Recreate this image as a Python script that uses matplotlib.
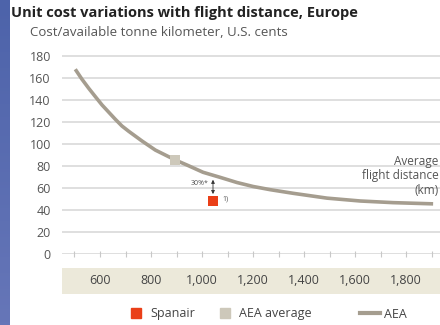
import numpy as np
import matplotlib.pyplot as plt
from matplotlib.colors import LinearSegmentedColormap
from matplotlib.lines import Line2D
from matplotlib.patches import Rectangle

# AEA unit cost curve (km, US cents per ATK)
aea_dist = [503, 529, 556, 582, 608, 634, 660, 686, 713, 765, 817, 869, 900,
            941, 1004, 1071, 1137, 1200, 1267, 1357, 1490, 1620, 1749, 1906]
aea_cost = [168, 159, 150.6, 143, 135.5, 129, 122.5, 116.4, 111.5, 102.7, 94.5,
            88.5, 85, 80.9, 74.3, 69.7, 65, 61.4, 58.5, 55.2, 50.8, 48.2, 46.7, 45.6]

aea_avg_dist = [893]
aea_avg_cost = [85.3]

spanair_dist = [1043]
spanair_cost = [48]

y_ticks = [0, 20, 40, 60, 80, 100, 120, 140, 160, 180]
x_ticks = [600, 800, 1000, 1200, 1400, 1600, 1800]
x_labels = ["600", "800", "1,000", "1,200", "1,400", "1,600", "1,800"]

plt.rcParams['font.family'] = ['Open Sans', 'DejaVu Sans']

curve_col = '#a59d8f'
avg_col = '#cdc8ba'
red = '#ea3f18'
grey_txt = '#555555'

fig = plt.figure(figsize=(4.4, 3.25), dpi=100)
fig.patch.set_facecolor('white')

# blue strip on the left edge
strip = fig.add_axes([0, 0, 9.5 / 440, 1])
grad = np.linspace(0, 1, 100).reshape(-1, 1)
strip.imshow(grad, aspect='auto',
             cmap=LinearSegmentedColormap.from_list('b', ['#4d63aa', '#6676b8']))
strip.axis('off')

ax = fig.add_axes([62 / 440, 71 / 325, 378 / 440, 204 / 325])
ax.set_xlim(451, 1933)
ax.set_ylim(0, 185.5)
for s in ax.spines.values():
    s.set_visible(False)

for v in y_ticks:
    ax.axhline(v, color='#d6d6d6', lw=1.1, zorder=1)

ax.set_yticks(y_ticks)
ax.tick_params(axis='y', length=0, pad=8, labelsize=9, labelcolor=grey_txt)

# small ticks along the zero line
ax.set_xticks(np.arange(500, 1901, 100))
ax.tick_params(axis='x', direction='inout', length=4, width=0.8, color='#c8c8c8',
               labelbottom=False)

# beige band behind the x labels
ax.add_patch(Rectangle((0, -40 / 204), 1.05, 26 / 204, transform=ax.transAxes,
                       facecolor='#ece9da', edgecolor='none', clip_on=False))
xt = ax.get_xaxis_transform()
for x, lab in zip(x_ticks, x_labels):
    ax.text(x, -27 / 204, lab, transform=xt, ha='center', va='center',
            fontsize=9, color='#444444')

ax.plot(aea_dist, aea_cost, color=curve_col, lw=2.6, solid_capstyle='butt',
        solid_joinstyle='round', zorder=3)
ax.scatter(aea_avg_dist, aea_avg_cost, marker='s', s=55, color=avg_col, zorder=4, lw=0)
ax.scatter(spanair_dist, spanair_cost, marker='s', s=55, color=red, zorder=4, lw=0)

ax.annotate('', xy=(spanair_dist[0], 67.5), xytext=(spanair_dist[0], 54.5),
            arrowprops=dict(arrowstyle='<|-|>', color='#333333', lw=0.6,
                            mutation_scale=5, shrinkA=0, shrinkB=0))
ax.text(spanair_dist[0] - 18, 64, '30%*', ha='right', va='center', fontsize=5,
        color=grey_txt)
ax.text(spanair_dist[0] + 38, 50, '1)', ha='left', va='center', fontsize=5,
        color=grey_txt)

ax.text(0.997, (254 - 176) / 204, 'Average\nflight distance\n(km)', transform=ax.transAxes,
        ha='right', va='center', fontsize=8.5, color=grey_txt, clip_on=False)

fig.text(11 / 440, 1 - 13 / 325, 'Unit cost variations with flight distance, Europe',
         fontsize=10.5, fontweight='bold', color='#222222', va='center')
fig.text(30 / 440, 1 - 33 / 325, 'Cost/available tonne kilometer, U.S. cents',
         fontsize=9.5, color=grey_txt, va='center')

# legend, one entry at a time to match the spacing
entries = [
    (Line2D([], [], marker='s', ls='none', color=red, markersize=7), 'Spanair', 126),
    (Line2D([], [], marker='s', ls='none', color=avg_col, markersize=7), 'AEA average', 215),
    (Line2D([], [], color=curve_col, lw=3), 'AEA', 360),
]
for h, lab, px in entries:
    fig.legend([h], [lab], loc='center left', bbox_to_anchor=(px / 440, 11 / 325),
               frameon=False, fontsize=9, handlelength=1.6, handletextpad=0.35,
               borderpad=0, borderaxespad=0, labelcolor='#444444')

fig.savefig('out.png', dpi=100)
